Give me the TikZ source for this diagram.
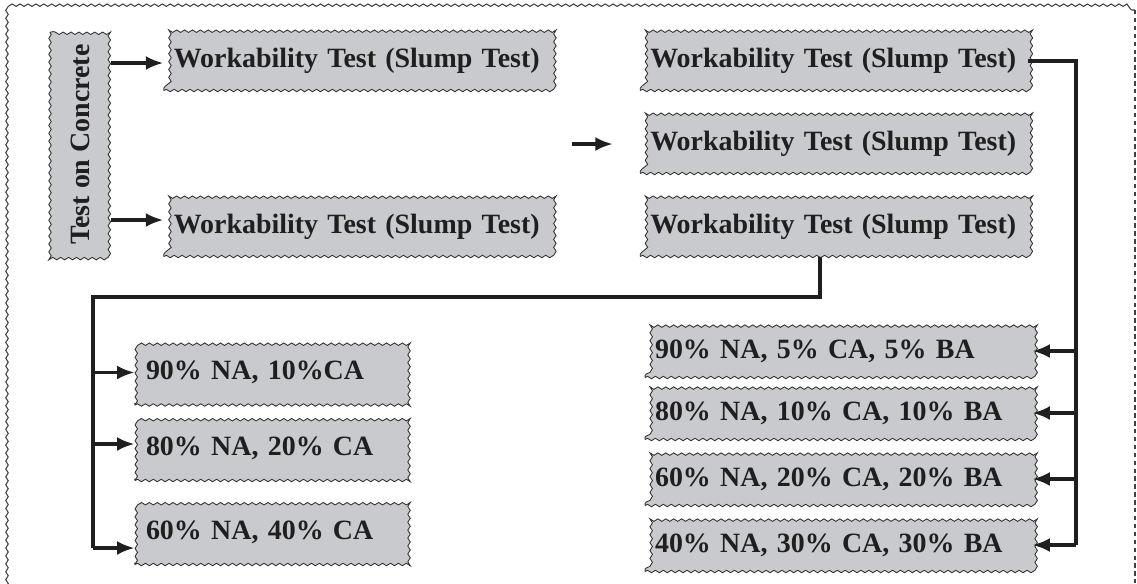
\documentclass[tikz,border=0pt]{standalone}
\usepackage{fontspec}
\setmainfont{Liberation Serif}
\usetikzlibrary{decorations.pathmorphing,arrows.meta}
\definecolor{boxgray}{RGB}{201,202,205}
\colorlet{inkx}{black!88}

\begin{document}
\begin{tikzpicture}[x=0.02cm,y=-0.02cm,
    wavy/.style={decorate,decoration={snake,amplitude=0.7pt,segment length=4.5pt}},
    testbox/.style={wavy,draw=black!80,fill=boxgray,line width=0.5pt,text=inkx,
        font=\fontsize{15.9}{18}\selectfont\bfseries,inner ysep=0pt,align=left},
    wtbox/.style={testbox,inner xsep=0.2cm,text width=7.35cm,minimum height=1.18cm},
    mixl/.style={testbox,inner xsep=0.22cm,text width=5cm,minimum height=1.3cm},
    mixr/.style={testbox,inner xsep=0.2cm,text width=7.34cm,minimum height=1.06cm},
    conn/.style={inkx,line width=1.9pt},
    arr/.style={conn,-{Latex[length=10pt,width=8pt]}}]
    \useasboundingbox (0,0) rectangle (1137,583);
    % frame
    \draw[black!75,line width=0.6pt,wavy] (7,590) -- (7,10) -- (1135,10);
    \draw[black!75,line width=1pt,dash pattern=on 2.5pt off 2pt] (1135,10) -- (1135,583);
    % left part
    \node[testbox,rotate=90,minimum width=4.5cm,minimum height=1.22cm,inner xsep=0pt,align=center]
        (tc) at (80.5,144.5) {Test on Concrete};
    \node[wtbox] (wtl1) at (357.5,61) {Workability Test (Slump Test)};
    \node[wtbox] (wtl2) at (357.5,227) {Workability Test (Slump Test)};
    \draw[arr] (tc.south |- 0,63) -- (wtl1.west |- 0,63);
    \draw[arr] (tc.south |- 0,220) -- (wtl2.west |- 0,220);
    % right part
    \node[wtbox] (wtr1) at (834,61) {Workability Test (Slump Test)};
    \node[wtbox] (wtr2) at (834,144) {Workability Test (Slump Test)};
    \node[wtbox] (wtr3) at (834,227) {Workability Test (Slump Test)};
    \coordinate (free) at (572,144);
    \draw[arr,shorten >=0.54cm] (free) -- (wtr2.west);
    % mixes
    \node[mixl] (nca1) at (271,372.5) {90\% NA, 10\%CA};
    \node[mixl] (nca2) at (271,448) {80\% NA, 20\% CA};
    \node[mixl] (nca3) at (271,532) {60\% NA, 40\% CA};
    \node[mixr] (nba1) at (838.5,351) {90\% NA, 5\% CA, 5\% BA};
    \node[mixr] (nba2) at (838.5,413) {80\% NA, 10\% CA, 10\% BA};
    \node[mixr] (nba3) at (838.5,479) {60\% NA, 20\% CA, 20\% BA};
    \node[mixr] (nba4) at (838.5,545) {40\% NA, 30\% CA, 30\% BA};
    % left trunk
    \coordinate (ltop) at (93,297);
    \coordinate (lbot) at (93,548);
    \draw[conn] (wtr3.south -| 820,0) |- (ltop) -- (lbot);
    \draw[arr] (ltop |- nca1.west) -- (nca1.west);
    \draw[arr] (ltop |- 0,444) -- (nca2.west |- 0,444);
    \draw[arr] (lbot) -- (lbot -| nca3.west);
    % right trunk
    \coordinate (rtop) at (1076,61);
    \coordinate (rbot) at (1076,545);
    \draw[conn] (wtr1.east) -- (rtop) -- (rbot);
    \draw[arr] (rbot) -- (nba4.east);
    \foreach \n in {nba1,nba2,nba3}
        \draw[arr] (rtop |- \n.east) -- (\n.east);
\end{tikzpicture}
\end{document}
